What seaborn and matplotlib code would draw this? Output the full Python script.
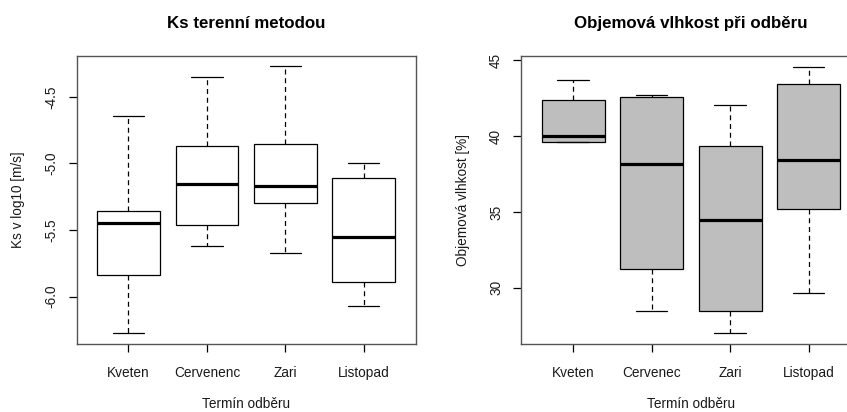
import matplotlib
matplotlib.use("Agg")
import matplotlib.pyplot as plt
import numpy as np
import pandas as pd
import seaborn as sns

# five-number summaries: min, Q1, median, Q3, max
ks_months = ["Kveten", "Cervenenc", "Zari", "Listopad"]
ks_kveten = [-6.276, -5.835, -5.449, -5.356, -4.647]
ks_cervenenc = [-5.617, -5.461, -5.158, -4.868, -4.351]
ks_zari = [-5.669, -5.298, -5.173, -4.853, -4.271]
ks_listopad = [-6.071, -5.890, -5.556, -5.110, -4.995]

vl_months = ["Kveten", "Cervenec", "Zari", "Listopad"]
vl_kveten = [39.58, 39.58, 40.00, 42.40, 43.69]
vl_cervenec = [28.50, 31.22, 38.18, 42.57, 42.68]
vl_zari = [27.00, 28.50, 34.49, 39.34, 42.04]
vl_listopad = [29.68, 35.19, 38.40, 43.43, 44.57]

ks_ticks = [-6.0, -5.5, -5.0, -4.5]
vl_ticks = [30, 35, 40, 45]


def long_df(months, groups):
    rows = []
    for m, vals in zip(months, groups):
        for v in vals:
            rows.append({"termin": m, "value": v})
    return pd.DataFrame(rows)


ks_df = long_df(ks_months, [ks_kveten, ks_cervenenc, ks_zari, ks_listopad])
vl_df = long_df(vl_months, [vl_kveten, vl_cervenec, vl_zari, vl_listopad])

sns.set_style("ticks")
plt.rcParams["font.family"] = ["Liberation Sans", "DejaVu Sans"]
plt.rcParams["xtick.major.size"] = 6
plt.rcParams["ytick.major.size"] = 6
plt.rcParams["xtick.color"] = "black"
plt.rcParams["ytick.color"] = "black"

W, H = 847, 412
fig = plt.figure(figsize=(W / 100, H / 100), dpi=100)


def px_axes(x0, x1, y0, y1):
    return fig.add_axes([x0 / W, 1 - y1 / H, (x1 - x0) / W, (y1 - y0) / H])


ax1 = px_axes(76.7, 415.5, 55.7, 344)
ax2 = px_axes(521.3, 860.5, 56, 344)


def r_box(ax, df, order, fill, ticks, fmt, title, ylabel):
    sns.boxplot(
        data=df, x="termin", y="value", order=order, ax=ax,
        color=fill, saturation=1, linecolor="black", linewidth=0.9,
        width=0.8, whis=(0, 100),
        medianprops=dict(linewidth=2.3, color="black"),
        whiskerprops=dict(linestyle=(0, (4, 3)), linewidth=0.9),
        capprops=dict(linewidth=0.9),
    )
    vmin, vmax = df["value"].min(), df["value"].max()
    pad = (vmax - vmin) * 0.04
    ax.set_ylim(vmin - pad, vmax + pad)
    ax.set_xlim(-0.66, 3.66)
    ax.set_yticks(ticks)
    ax.set_yticklabels([fmt.format(t) for t in ticks], rotation=90, va="center")
    ax.tick_params(axis="both", which="major", direction="out", length=6,
                   width=0.9, color="black", labelsize=9.8,
                   labelcolor="#1a1a1a", left=True, bottom=True)
    ax.tick_params(axis="x", pad=9.5)
    ax.tick_params(axis="y", pad=7)
    for s in ax.spines.values():
        s.set_visible(True)
        s.set_color("#555555")
        s.set_linewidth(1.0)
    ax.set_xlabel("Termín odběru", fontsize=9.8, color="#1a1a1a", labelpad=12.5)
    ax.set_ylabel(ylabel, fontsize=9.8, color="#1a1a1a", labelpad=14)
    ax.set_title(title, fontsize=12.2, fontweight="bold", color="black", pad=20)


r_box(ax1, ks_df, ks_months, "white", ks_ticks, "{:.1f}",
      "Ks terenní metodou", "Ks v log10 [m/s]")
r_box(ax2, vl_df, vl_months, "#bebebe", vl_ticks, "{:.0f}",
      "Objemová vlhkost při odběru", "Objemová vlhkost [%]")

fig.savefig("out.png", dpi=100)
